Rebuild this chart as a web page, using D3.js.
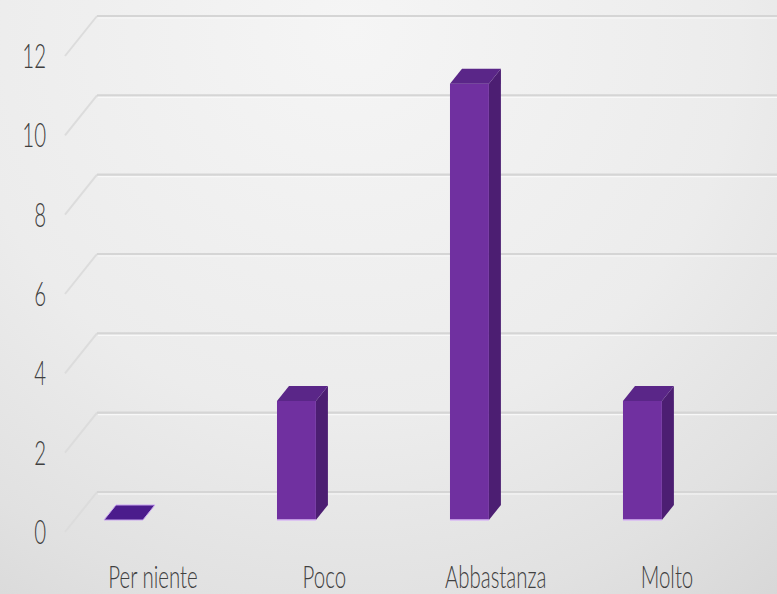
<!DOCTYPE html>
<html>
<head>
<meta charset="utf-8">
<script src="https://cdn.jsdelivr.net/npm/d3@7"></script>
<style>
html,body{margin:0;padding:0;overflow:hidden;background:#e6e6e6;}
svg{display:block;}
</style>
</head>
<body>
<svg id="chart" width="777" height="594"></svg>
<script>
const categories = ["Per niente", "Poco", "Abbastanza", "Molto"];
const values = [0, 3, 11, 3];
const tickValues = [0, 2, 4, 6, 8, 10, 12];

const W = 777, H = 594;
const svg = d3.select("#chart");

// background
const defs = svg.append("defs");
const rg = defs.append("radialGradient").attr("id", "bg")
  .attr("gradientUnits", "userSpaceOnUse")
  .attr("cx", 350).attr("cy", 30).attr("r", 780);
[[0, "#f5f5f5"], [0.5, "#ececec"], [0.75, "#e1e1e1"], [1, "#d2d2d2"]].forEach(([o, c]) =>
  rg.append("stop").attr("offset", o).attr("stop-color", c));
svg.append("rect").attr("width", W).attr("height", H).attr("fill", "url(#bg)");

// scales
const y = d3.scaleLinear().domain([0, 12]).range([532, 56]);
const x = d3.scaleBand().domain(categories).range([25.2, 721.5])
  .paddingInner(0.775).paddingOuter(0.4);
const xLabel = d3.scalePoint().domain(categories).range([153, 667]);

// depth projection (d from 0 front to 1 back)
const DX = 32, DY = -40;
const floorX0 = 65;

// gridlines
const grid = svg.append("g");
tickValues.forEach(v => {
  const yf = y(v), yb = y(v) + DY;
  grid.append("path")
    .attr("d", `M${floorX0},${yf}L${floorX0 + DX},${yb}`)
    .attr("fill", "none").attr("stroke", "#dcdcdc").attr("stroke-width", 2);
  grid.append("path")
    .attr("d", `M${floorX0 + DX},${yb}L${W},${yb}`)
    .attr("fill", "none").attr("stroke", "#d5d5d5").attr("stroke-width", 2.2);
  grid.append("path")
    .attr("d", `M${floorX0 + DX + 1},${yb + 2}L${W},${yb + 2}`)
    .attr("fill", "none").attr("stroke", "#f8f8f8").attr("stroke-width", 1.2);
});

// tick labels
const fontFam = "Lato, 'Open Sans', 'DejaVu Sans', sans-serif";
svg.append("g").selectAll("text").data(tickValues).join("text")
  .attr("transform", v => `translate(46,${y(v) + 12}) scale(0.62,1)`)
  .attr("text-anchor", "end")
  .attr("font-family", fontFam)
  .attr("font-weight", 300)
  .attr("font-size", 33)
  .attr("fill", "#404040")
  .text(d => d);

// bars
const dFront = 0.3, dBack = 0.675;
const bars = svg.append("g");
categories.forEach((c, i) => {
  const v = values[i];
  const xL = x(c) + DX * dFront;
  const xR = xL + x.bandwidth();
  const yT = y(v) + DY * dFront;
  const yB = y(0) + DY * dFront;
  const ddx = DX * (dBack - dFront), ddy = DY * (dBack - dFront);
  const g = bars.append("g");
  if (v > 0) {
    g.append("path")
      .attr("d", `M${xR},${yT}L${xR + ddx},${yT + ddy}L${xR + ddx},${yB + ddy}L${xR},${yB}Z`)
      .attr("fill", "#4c1e72");
    g.append("rect").attr("x", xL).attr("y", yT).attr("width", xR - xL).attr("height", yB - yT)
      .attr("fill", "#7030a0");
    g.append("line").attr("x1", xL).attr("x2", xR).attr("y1", yB).attr("y2", yB)
      .attr("stroke", "#d9b8f5").attr("stroke-width", 1.5);
  }
  g.append("path")
    .attr("d", `M${xL},${yT}L${xR},${yT}L${xR + ddx},${yT + ddy}L${xL + ddx},${yT + ddy}Z`)
    .attr("fill", v > 0 ? "#5a2688" : "#4b1c8c")
    .attr("stroke", v > 0 ? "none" : "#c9a6ef").attr("stroke-width", 1);
});

// category labels
svg.append("g").selectAll("text").data(categories).join("text")
  .attr("transform", c => `translate(${xLabel(c)},588) scale(0.66,1)`)
  .attr("text-anchor", "middle")
  .attr("font-family", fontFam)
  .attr("font-weight", 300)
  .attr("font-size", 31)
  .attr("fill", "#404040")
  .text(d => d);
</script>
</body>
</html>
